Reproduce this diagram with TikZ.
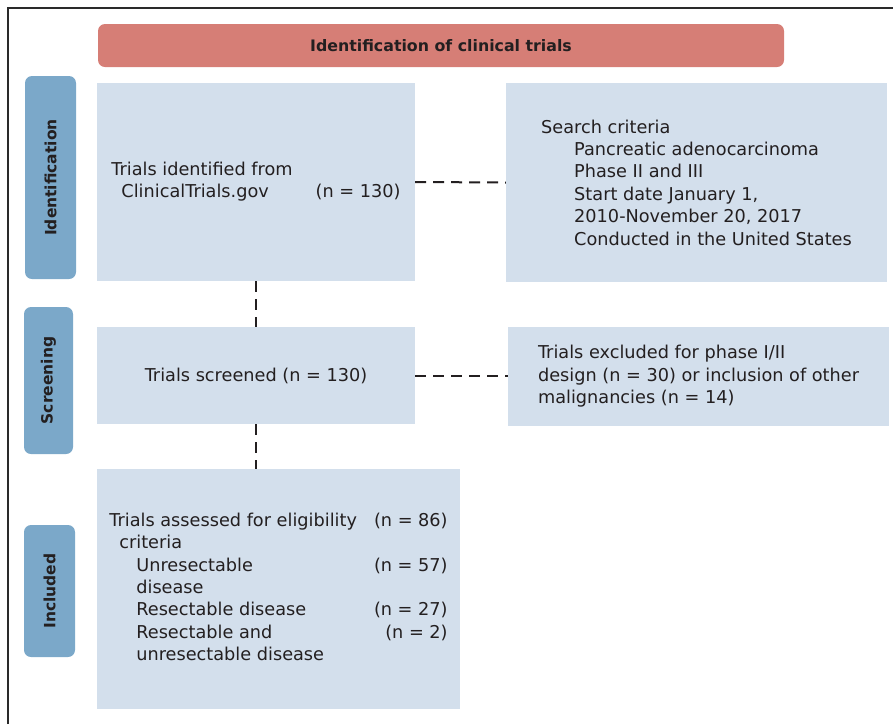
\documentclass[tikz,border=0pt]{standalone}
\usepackage{fontspec}
\setmainfont{DejaVu Sans}
\usepackage{xcolor}
\usetikzlibrary{positioning,calc}
\definecolor{titlered}{HTML}{D67E76}
\definecolor{phaseblue}{HTML}{7BA8C9}
\definecolor{boxblue}{HTML}{D3DFEC}
\definecolor{inkdark}{HTML}{231F20}
\definecolor{framegray}{HTML}{2A2A2A}

\begin{document}
\begin{tikzpicture}[x=1pt, y=-1pt,
    box/.style={fill=boxblue, rectangle, inner sep=0pt, align=left, text=inkdark, font=\fontsize{17.7}{22.4}\selectfont},
    phase/.style={fill=phaseblue, rectangle, rounded corners=7pt, rotate=90, inner sep=0pt, text=inkdark, font=\fontsize{15.5}{18}\selectfont\bfseries},
    link/.style={draw=inkdark, line width=2pt, dash pattern=on 11pt off 7pt}]
    \useasboundingbox (0,0) rectangle (893,724);

    % Frame
    \draw [framegray, line width=2pt] (8,724) -- (8,8) -- (893,8);

    % Title
    \node [fill=titlered, rounded corners=7pt, minimum width=686pt, minimum height=43pt, text=inkdark, font=\fontsize{15.8}{18}\selectfont\bfseries] (title) at (441,45.5) {Identification of clinical trials};

    % Phases
    \node [phase, minimum width=203pt, minimum height=51pt] (labid) at (50.5,177.5) {Identification};
    \node [phase, minimum width=147pt, minimum height=49pt] (labscr) at (48.5,380.5) {Screening};
    \node [phase, minimum width=132pt, minimum height=51pt] (labinc) at (49.5,591) {Included};

    % Identification
    \node [box, minimum width=318pt, minimum height=198pt] (ident) at (256,182) {\begin{tabular}{@{}l@{\hspace{23pt}}l@{}}
        Trials identified from & \\
        \hspace*{10pt}ClinicalTrials.gov & (n = 130)
    \end{tabular}};
    \node [box, minimum width=381pt, minimum height=199pt] (criteria) at (696.5,182.5) {Search criteria\\
        \hspace*{33pt}Pancreatic adenocarcinoma\\
        \hspace*{33pt}Phase II and III\\
        \hspace*{33pt}Start date January 1,\\
        \hspace*{33pt}2010-November 20, 2017\\
        \hspace*{33pt}Conducted in the United States};
    \draw [link] (ident.east) -- (criteria.west);

    % Screening
    \node [box, align=center, minimum width=318pt, minimum height=97pt] (screened) at (256,375.5) {Trials screened (n = 130)};
    \node [box, minimum width=381pt, minimum height=99pt] (excluded) at (698.5,376.5) {Trials excluded for phase I/II\\
        design (n = 30) or inclusion of other\\
        malignancies (n = 14)};
    \draw [link] (ident.south) -- (screened.north);
    \draw [link] (screened.east) -- (screened.east -| excluded.west);

    % Included
    \node [box, minimum width=363pt, minimum height=240pt] (assessed) at (278.5,589) {\begin{tabular}{@{}l@{\hspace{17pt}}r@{}}
        Trials assessed for eligibility & (n = 86)\\
        \hspace*{10pt}criteria & \\
        \hspace*{27pt}Unresectable & (n = 57)\\
        \hspace*{27pt}disease & \\
        \hspace*{27pt}Resectable disease & (n = 27)\\
        \hspace*{27pt}Resectable and & (n = 2)\\
        \hspace*{27pt}unresectable disease &
    \end{tabular}};
    \draw [link] (screened.south) -- (screened.south |- assessed.north);

\end{tikzpicture}
\end{document}
